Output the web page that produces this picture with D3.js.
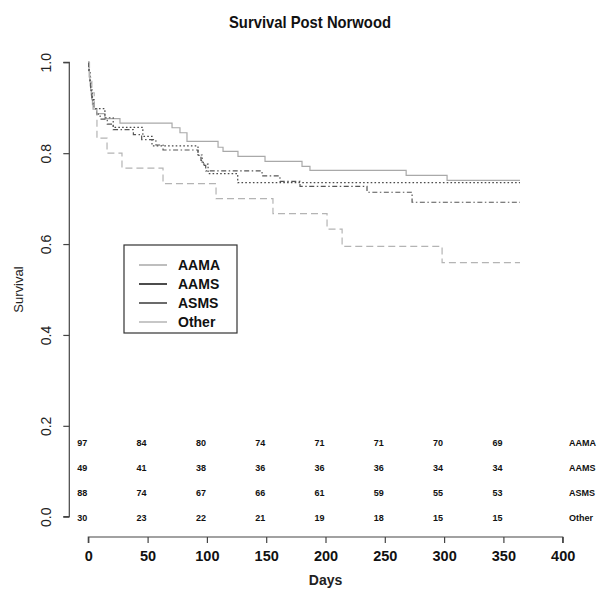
<!DOCTYPE html>
<html>
<head>
<meta charset="utf-8">
<script src="https://cdn.jsdelivr.net/npm/d3@7"></script>
<style>
  html, body { margin: 0; padding: 0; background: #fff; }
  svg { display: block; font-family: "Liberation Sans", Arial, sans-serif; }
</style>
</head>
<body>
<svg id="chart" width="598" height="592"></svg>
<script>
// Kaplan-Meier step estimates per group (day, survival after that day)
const groups = ["AAMA", "AAMS", "ASMS", "Other"];

const aamaDays = [0, 0.3, 0.6, 1, 1.3, 1.6, 2, 2.5, 3, 3.5, 4, 7, 14, 26.7, 70.6, 77.3, 83.2, 109.4, 113.6, 126.2, 149, 180.2, 186.9, 268, 302.5];
const aamaSurv = [1, 0.990, 0.979, 0.969, 0.959, 0.948, 0.938, 0.928, 0.918, 0.907, 0.897, 0.887, 0.876, 0.866, 0.856, 0.845, 0.826, 0.813, 0.804, 0.793, 0.782, 0.771, 0.762, 0.751, 0.740];

const aamsDays = [0, 0.5, 1.5, 2.5, 3.5, 5, 14, 21, 46, 53.7, 92.5, 96, 101, 126];
const aamsSurv = [1, 0.980, 0.959, 0.939, 0.918, 0.898, 0.878, 0.857, 0.837, 0.816, 0.796, 0.776, 0.755, 0.735];

const asmsDays = [0, 0.3, 0.7, 1, 1.5, 2, 2.5, 3, 4, 5, 7, 10, 16, 21, 38, 45, 57, 63, 92.5, 95, 97, 99, 146.5, 161.6, 178.5, 235, 273];
const asmsSurv = [1, 0.989, 0.977, 0.966, 0.955, 0.943, 0.932, 0.920, 0.909, 0.898, 0.886, 0.875, 0.864, 0.852, 0.841, 0.830, 0.818, 0.807, 0.795, 0.784, 0.773, 0.761, 0.750, 0.738, 0.727, 0.714, 0.692];

const otherDays = [0, 1, 3, 5, 7.3, 15.8, 28.4, 63, 107.7, 155.7, 201.3, 214, 298.3];
const otherSurv = [1, 0.967, 0.933, 0.900, 0.833, 0.800, 0.767, 0.733, 0.700, 0.667, 0.633, 0.595, 0.559];

const lastDay = 364;

// Numbers at risk
const riskDays = [0, 50, 100, 150, 200, 250, 300, 350];
const riskAAMA = [97, 84, 80, 74, 71, 71, 70, 69];
const riskAAMS = [49, 41, 38, 36, 36, 36, 34, 34];
const riskASMS = [88, 74, 67, 66, 61, 59, 55, 53];
const riskOther = [30, 23, 22, 21, 19, 18, 15, 15];

const xTicks = [0, 50, 100, 150, 200, 250, 300, 350, 400];
const yTicks = [0, 0.2, 0.4, 0.6, 0.8, 1.0];

// ---- drawing ----
const svg = d3.select("#chart");
const x = d3.scaleLinear().domain([0, 400]).range([88.3, 562.7]);
const y = d3.scaleLinear().domain([0, 1]).range([516.7, 62.3]);

const styles = {
  AAMA:  { stroke: "#a9a9a9", dash: null,            legend: "#a9a9a9" },
  AAMS:  { stroke: "#4a4a4a", dash: "1.6,2.2",       legend: "#111111" },
  ASMS:  { stroke: "#555555", dash: "5,2.5,1.5,2.5", legend: "#3a3a3a" },
  Other: { stroke: "#b4b4b4", dash: "7,4",           legend: "#b4b4b4" }
};

const series = [
  { name: "AAMA",  days: aamaDays,  surv: aamaSurv },
  { name: "AAMS",  days: aamsDays,  surv: aamsSurv },
  { name: "ASMS",  days: asmsDays,  surv: asmsSurv },
  { name: "Other", days: otherDays, surv: otherSurv }
];

const line = d3.line()
  .x(d => x(d[0]))
  .y(d => y(d[1]))
  .curve(d3.curveStepAfter);

const curves = svg.append("g").attr("fill", "none");
series.forEach(s => {
  const pts = s.days.map((d, i) => [d, s.surv[i]]);
  pts.push([lastDay, s.surv[s.surv.length - 1]]);
  curves.append("path")
    .attr("d", line(pts))
    .attr("stroke", styles[s.name].stroke)
    .attr("stroke-width", 1.2)
    .attr("stroke-dasharray", styles[s.name].dash);
});

// x axis
const xAxis = svg.append("g")
  .attr("transform", "translate(0,537)")
  .call(d3.axisBottom(x).tickValues(xTicks).tickSize(6).tickPadding(8).tickFormat(d3.format("d")));
xAxis.select(".domain").attr("stroke", "#444").attr("stroke-width", 1.2).attr("d", `M${x(0)},6V0H${x(400)}V6`);
xAxis.selectAll(".tick line").attr("stroke", "#444").attr("stroke-width", 1.2);
xAxis.selectAll(".tick text")
  .attr("font-family", "Liberation Sans, Arial, sans-serif")
  .attr("font-size", 14.5).attr("font-weight", "bold").attr("fill", "#111");

// y axis
const yAxis = svg.append("g")
  .attr("transform", "translate(69.3,0)")
  .call(d3.axisLeft(y).tickValues(yTicks).tickSize(6).tickFormat(d3.format(".1f")));
yAxis.select(".domain").attr("stroke", "#444").attr("stroke-width", 1.2).attr("d", `M-6,${y(0)}H0V${y(1)}H-6`);
yAxis.selectAll(".tick line").attr("stroke", "#444").attr("stroke-width", 1.2);
yAxis.selectAll(".tick text")
  .attr("x", null).attr("dy", null)
  .attr("text-anchor", "middle")
  .attr("transform", "translate(-18,0) rotate(-90)")
  .attr("font-family", "Liberation Sans, Arial, sans-serif")
  .attr("font-size", 14).attr("fill", "#222");

// axis titles
svg.append("text")
  .attr("x", 325.5).attr("y", 585)
  .attr("text-anchor", "middle")
  .attr("font-size", 14).attr("font-weight", "bold").attr("fill", "#222")
  .text("Days");

svg.append("text")
  .attr("transform", `translate(23,${y(0.5)}) rotate(-90)`)
  .attr("text-anchor", "middle")
  .attr("font-size", 13).attr("fill", "#222")
  .text("Survival");

// title
svg.append("text")
  .attr("x", 310).attr("y", 28)
  .attr("text-anchor", "middle")
  .attr("font-size", 17).attr("font-weight", "bold").attr("fill", "#111")
  .attr("textLength", 162).attr("lengthAdjust", "spacingAndGlyphs")
  .text("Survival Post Norwood");

// numbers-at-risk table
const riskRows = [riskAAMA, riskAAMS, riskASMS, riskOther];
const rowY = [446, 471, 496, 521];
const table = svg.append("g")
  .attr("font-size", 9).attr("font-weight", "bold").attr("fill", "#111");
riskRows.forEach((row, r) => {
  table.selectAll(null)
    .data(row.map((v, i) => ({ v, d: riskDays[i] })))
    .join("text")
    .attr("x", d => x(d.d) - 6)
    .attr("y", rowY[r])
    .attr("text-anchor", "middle")
    .text(d => d.v);
  table.append("text")
    .attr("x", 569).attr("y", rowY[r])
    .text(groups[r]);
});

// legend
const lg = svg.append("g");
lg.append("rect")
  .attr("x", 124).attr("y", 245).attr("width", 113).attr("height", 88)
  .attr("fill", "#fff").attr("stroke", "#333").attr("stroke-width", 1.2);
groups.forEach((g, i) => {
  const ly = 265 + i * 19;
  lg.append("line")
    .attr("x1", 139).attr("x2", 167).attr("y1", ly).attr("y2", ly)
    .attr("stroke", styles[g].legend).attr("stroke-width", 1.5);
  lg.append("text")
    .attr("x", 178).attr("y", ly + 5)
    .attr("font-size", 14).attr("font-weight", "bold").attr("fill", "#111")
    .text(g);
});
</script>
</body>
</html>
